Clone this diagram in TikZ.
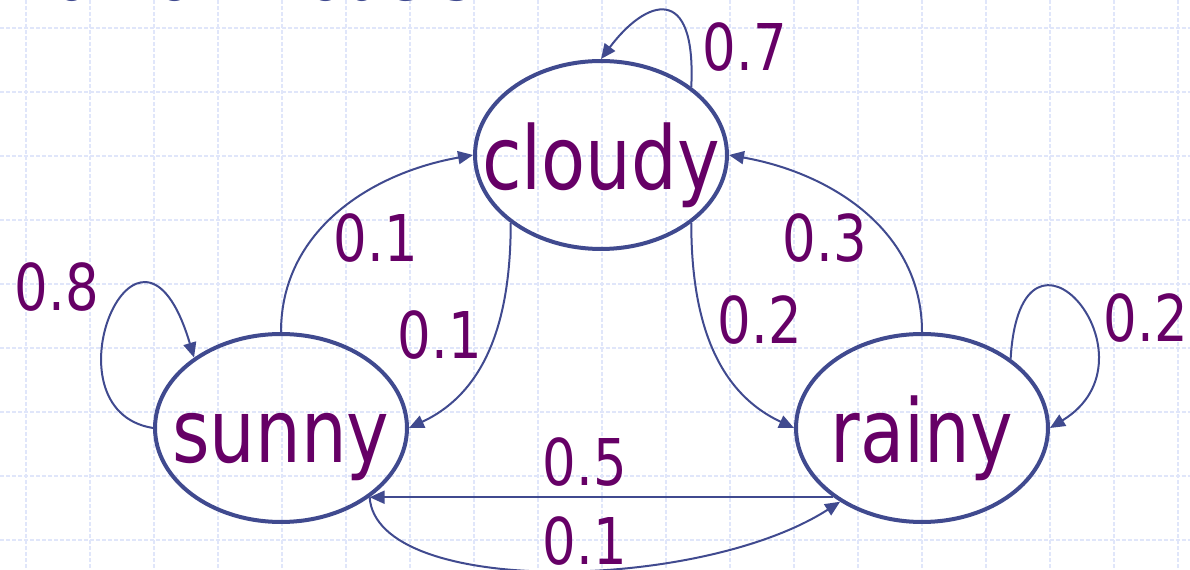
\documentclass[tikz,border=0pt]{standalone}
\usepackage{fontspec}
\setmainfont{DejaVu Sans}[FakeStretch=0.82]
\usetikzlibrary{arrows.meta,shapes.geometric}
\definecolor{edgeblue}{HTML}{404A8F}
\definecolor{plum}{HTML}{660066}
\definecolor{gridblue}{HTML}{E0E6FA}
\tikzset{
  state/.style={
    shape = ellipse,
    draw = edgeblue,
    line width = 0.08cm,
    inner sep = 0,
    minimum width = 5.04cm,
    minimum height = 3.76cm,
    text = plum,
    text height = 1.4cm,
    text depth = 0cm,
    font = \fontsize{50}{60}\selectfont
  },
  prob/.style={
    text = plum,
    inner sep = 0,
    font = \fontsize{36.7}{44}\selectfont
  },
  trans/.style={
    draw = edgeblue,
    line width = 0.04cm,
    -{Triangle[length=0.3cm,width=0.26cm]}
  },
  gridline/.style={
    draw = gridblue,
    line width = 0.03cm,
    dash pattern = on 0.08cm off 0.04cm
  }
}

\begin{document}
\begin{tikzpicture}[x=0.02cm, y=0.02cm]
  \useasboundingbox (0,0) rectangle (1190,-570);
  \clip (0,0) rectangle (1190,-570);
  % background grid
  \foreach \x in {0,...,18}
    \draw[gridline] (26+64*\x, 0) -- ++(0,-570);
  \foreach \y in {0,...,8}
    \draw[gridline] (0, -28-64*\y) -- ++(1190,0);
  \node[anchor=base west, text=edgeblue, inner sep=0, font=\fontsize{43.8}{50}\selectfont] (title) at (2,-1) {Markov Models:};

  \node[state] (cloudy) at (601,-155) {\makebox[0pt]{cloudy}};
  \node[state] (sunny) at (281,-428) {\makebox[0pt]{sunny}};
  \node[state] (rainy) at (922,-428) {\makebox[0pt]{rainy}};

  % self loops
  \draw[trans] (sunny.west) .. controls +(-113,18) and +(-55,185) .. (sunny.141);
  \draw[trans] (cloudy.37) .. controls +(5,105) and +(45,60) .. (cloudy.north);
  \draw[trans] (rainy.38) .. controls +(10,170) and +(115,70) .. (rainy.east);
  % between the states
  \draw[trans] (sunny.north) to[out=90, in=190] (cloudy.west);
  \draw[trans] (cloudy.217) to[out=-90, in=25] (sunny.east);
  \draw[trans] (cloudy.323) to[out=-90, in=155] (rainy.west);
  \draw[trans] (rainy.north) to[out=90, in=-10] (cloudy.east);
  \draw[trans] (rainy.218) -- (sunny.322);
  \draw[trans] (sunny.322) .. controls +(7,-100) and +(-140,-90) .. (rainy.222);

  \node[prob] (p-ss) at (57,-287) {0.8};
  \node[prob] (p-cc) at (745,-47) {0.7};
  \node[prob] (p-rr) at (1146,-318) {0.2};
  \node[prob] (p-sc) at (376,-238) {0.1};
  \node[prob] (p-cs) at (440,-335) {0.1};
  \node[prob] (p-cr) at (760,-320) {0.2};
  \node[prob] (p-rc) at (825,-238) {0.3};
  \node[prob] (p-rs) at (585,-462) {0.5};
  \node[prob] (p-sr) at (585,-541) {0.1};
\end{tikzpicture}
\end{document}
